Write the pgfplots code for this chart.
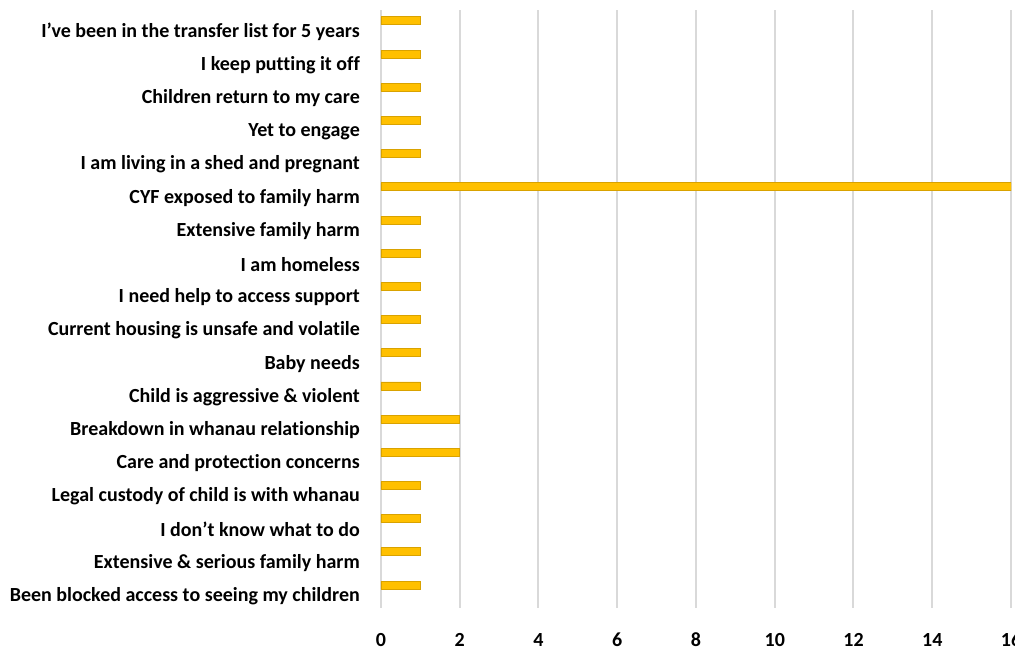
\documentclass[border=0pt]{standalone}
\usepackage{fontspec}
\setmainfont{Carlito}[Ligatures=NoCommon]
\usepackage{pgfplots}
\pgfplotsset{compat=1.18}
\definecolor{bargold}{HTML}{FFC000}
\definecolor{baredge}{HTML}{D9A200}
\definecolor{gridgray}{HTML}{D9D9D9}
\begin{document}
\begin{tikzpicture}
\path[use as bounding box] (-381pt,-42pt) rectangle (634pt,608pt);
\begin{axis}[
  at={(0,0)}, anchor=south west,
  scale only axis,
  width=630pt, height=598pt,
  xmin=0, xmax=16,
  ymin=-0.36, ymax=17.66,
  xtick={0,2,...,16},
  ytick={0,...,17},
  yticklabels={
    Been blocked access to seeing my children,
    Extensive \& serious family harm,
    I don’t know what to do,
    Legal custody of child is with whanau,
    Care and protection concerns,
    Breakdown in whanau relationship,
    Child is aggressive \& violent,
    Baby needs,
    Current housing is unsafe and volatile,
    I need help to access support,
    I am homeless,
    Extensive family harm,
    CYF exposed to family harm,
    I am living in a shed and pregnant,
    Yet to engage,
    Children return to my care,
    I keep putting it off,
    I’ve been in the transfer list for 5 years},
  axis line style={draw=none},
  major tick length=0pt,
  xmajorgrids,
  grid style={gridgray, line width=2pt},
  /pgf/number format/assume math mode=true,
  ticklabel style={font=\bfseries\fontsize{20}{24}\selectfont, text=black},
  yticklabel style={anchor=east, inner sep=0pt},
  yticklabel shift=21pt,
  xticklabel style={anchor=center, inner sep=0pt},
  xticklabel shift=32pt,
  xbar,
  bar width=8pt,
  bar shift=11pt,
]
\addplot[fill=bargold, draw=baredge, line width=0.8pt] coordinates {
(1,0) (1,1) (1,2) (1,3) (2,4) (2,5) (1,6) (1,7) (1,8) (1,9)
(1,10) (1,11) (16,12) (1,13) (1,14) (1,15) (1,16) (1,17)
};
\end{axis}
\end{tikzpicture}
\end{document}
